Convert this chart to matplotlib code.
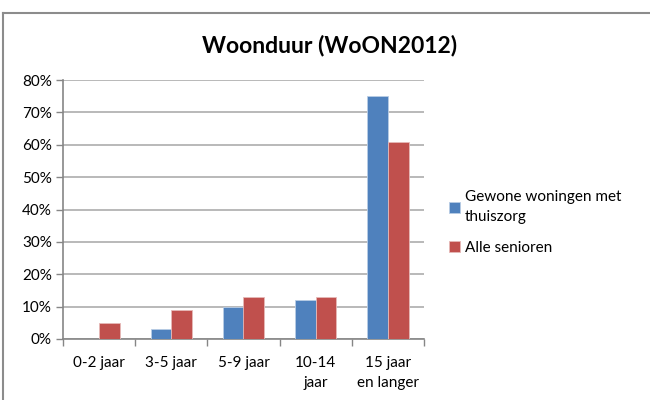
import matplotlib.pyplot as plt
import numpy as np
from matplotlib.lines import Line2D
from matplotlib.ticker import FuncFormatter, FixedLocator

plt.rcParams['font.family'] = ['Lato', 'DejaVu Sans']

categories = ['0-2 jaar', '3-5 jaar', '5-9 jaar', '10-14\njaar', '15 jaar\nen langer']
thuiszorg = [0, 3, 10, 12, 75]
senioren = [5, 9, 13, 13, 61]
series_names = ['Gewone woningen met\nthuiszorg', 'Alle senioren']

blue = '#4F81BD'
red = '#C0504D'
grid_grey = '#A6A6A6'

fig = plt.figure(figsize=(6.5, 4), dpi=100)
ax = fig.add_axes([63 / 650, 1 - 339 / 400, 361 / 650, 259 / 400])

x = np.arange(len(categories))
w = 0.286
ax.bar(x - w / 2, thuiszorg, w, color=blue, edgecolor='#B9CDE5', linewidth=0.6,
       label=series_names[0], zorder=3)
ax.bar(x + w / 2, senioren, w, color=red, edgecolor='#E6B9B8', linewidth=0.6,
       label=series_names[1], zorder=3)

ax.set_xlim(-0.5, len(categories) - 0.5)
ax.set_ylim(0, 80)
ax.set_yticks(range(0, 81, 10))
ax.yaxis.set_major_formatter(FuncFormatter(lambda v, p: f'{int(v)}%'))
ax.grid(axis='y', color=grid_grey, linewidth=1.1, zorder=0)

ax.set_xticks(x)
ax.set_xticklabels(categories, fontsize=11, linespacing=1.55)
ax.tick_params(axis='x', length=0, pad=12)
ax.xaxis.set_minor_locator(FixedLocator(np.arange(-0.5, len(categories), 1.0)))
ax.tick_params(axis='x', which='minor', length=5, color='#868686', width=1)
ax.tick_params(axis='y', length=5, color='#868686', width=1, labelsize=11, pad=3)

for s in ['top', 'right']:
    ax.spines[s].set_visible(False)
for s in ['left', 'bottom']:
    ax.spines[s].set_color('#868686')
    ax.spines[s].set_linewidth(1.2)

fig.text(330 / 650, 1 - 45 / 400, 'Woonduur (WoON2012)', fontsize=16.5,
         fontweight='bold', ha='center', va='center')

leg = ax.legend(loc='upper left', bbox_to_anchor=(443 / 650, 1 - 184 / 400),
                bbox_transform=fig.transFigure, frameon=False, fontsize=11,
                handlelength=0.7, handleheight=0.7, handletextpad=0.35,
                labelspacing=1.1, borderaxespad=0)
for t in leg.get_texts():
    t.set_linespacing(1.55)

# chart area border (cropped)
fig.add_artist(Line2D([3 / 650, 1], [1 - 13 / 400, 1 - 13 / 400],
                      color='#8C8C8C', linewidth=1.5, transform=fig.transFigure))
fig.add_artist(Line2D([3 / 650, 3 / 650], [0, 1 - 13 / 400],
                      color='#8C8C8C', linewidth=1.5, transform=fig.transFigure))

fig.savefig('out.png', dpi=100)
